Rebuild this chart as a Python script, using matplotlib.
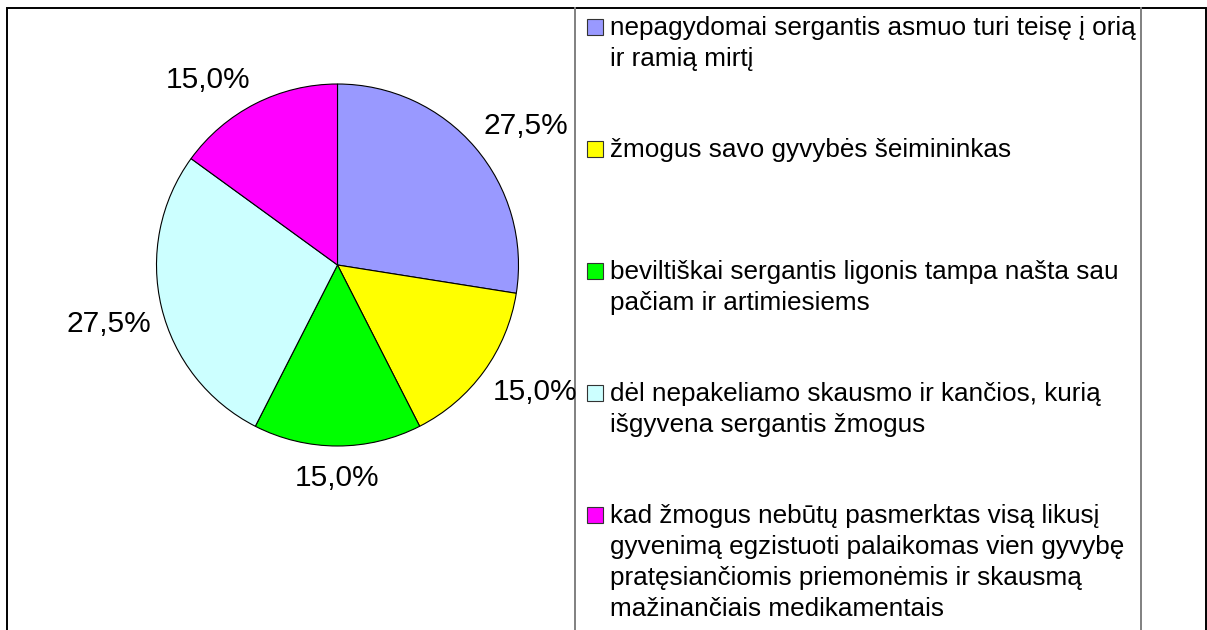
import matplotlib.pyplot as plt
from matplotlib.patches import Rectangle
import numpy as np

# ============================================================
# DATA
# ============================================================

shares = [27.5, 15.0, 15.0, 27.5, 15.0]
pct_labels = ['27,5%', '15,0%', '15,0%', '27,5%', '15,0%']
colors = ['#9999FF', '#FFFF00', '#00FF00', '#CCFFFF', '#FF00FF']
legend_labels = [
    'nepagydomai sergantis asmuo turi teisę į orią\nir ramią mirtį',
    'žmogus savo gyvybės šeimininkas',
    'beviltiškai sergantis ligonis tampa našta sau\npačiam ir artimiesiems',
    'dėl nepakeliamo skausmo ir kančios, kurią\nišgyvena sergantis žmogus',
    'kad žmogus nebūtų pasmerktas visą likusį\ngyvenimą egzistuoti palaikomas vien gyvybę\n'
    'pratęsiančiomis priemonėmis ir skausmą\nmažinančiais medikamentais',
]

# ============================================================
# PLOT SETTINGS
# ============================================================

W, H = 1207, 630
FONT = 'Liberation Sans'
plt.rcParams['font.family'] = [FONT, 'DejaVu Sans']

fig = plt.figure(figsize=(W / 100, H / 100), dpi=100)

# overlay axes in pixel coordinates for the frames and legend
bg = fig.add_axes([0, 0, 1, 1])
bg.set_xlim(0, W)
bg.set_ylim(H, 0)
bg.axis('off')

# outer frame (black) and legend box (gray)
bg.plot([7, 7, 1206, 1206], [H + 5, 8, 8, H + 5], color='black', lw=1.4,
        solid_joinstyle='miter')
bg.plot([575, 575], [8, H + 5], color='#808080', lw=1.4)
bg.plot([1141, 1141], [8, H + 5], color='#808080', lw=1.4)

# legend entries
for i, (lab, col) in enumerate(zip(legend_labels, colors)):
    yc = 27.5 + i * 122
    bg.add_patch(Rectangle((587, yc - 8.5), 16, 16, facecolor=col,
                           edgecolor='#333333', lw=0.8))
    bg.text(610, yc - 12, lab, fontsize=18.8, va='top', ha='left',
            linespacing=1.37, color='black')

# ============================================================
# PIE
# ============================================================

cx, cy, r = 337.5, 265, 181
ax = fig.add_axes([(cx - r) / W, (H - cy - r) / H, 2 * r / W, 2 * r / H])
wedges, texts = ax.pie(
    shares, colors=colors, labels=pct_labels, startangle=90,
    counterclock=False, labeldistance=1.06,
    wedgeprops=dict(edgecolor='black', linewidth=0.8),
    textprops=dict(fontsize=21.5, color='black'),
)
for t in texts:
    x, y = t.get_position()
    ang = np.arctan2(y, x)
    cs, sn = np.cos(ang), np.sin(ang)
    t.set_ha('center' if abs(cs) < 0.1 else ('left' if cs > 0 else 'right'))
    t.set_va('center' if abs(sn) < 0.1 else ('bottom' if sn > 0 else 'top'))
    if sn < -0.9:
        t.set_y(y - 0.04)
ax.set_xlim(-1, 1)
ax.set_ylim(-1, 1)
ax.set_aspect('equal')

plt.savefig('out.png', dpi=100)
